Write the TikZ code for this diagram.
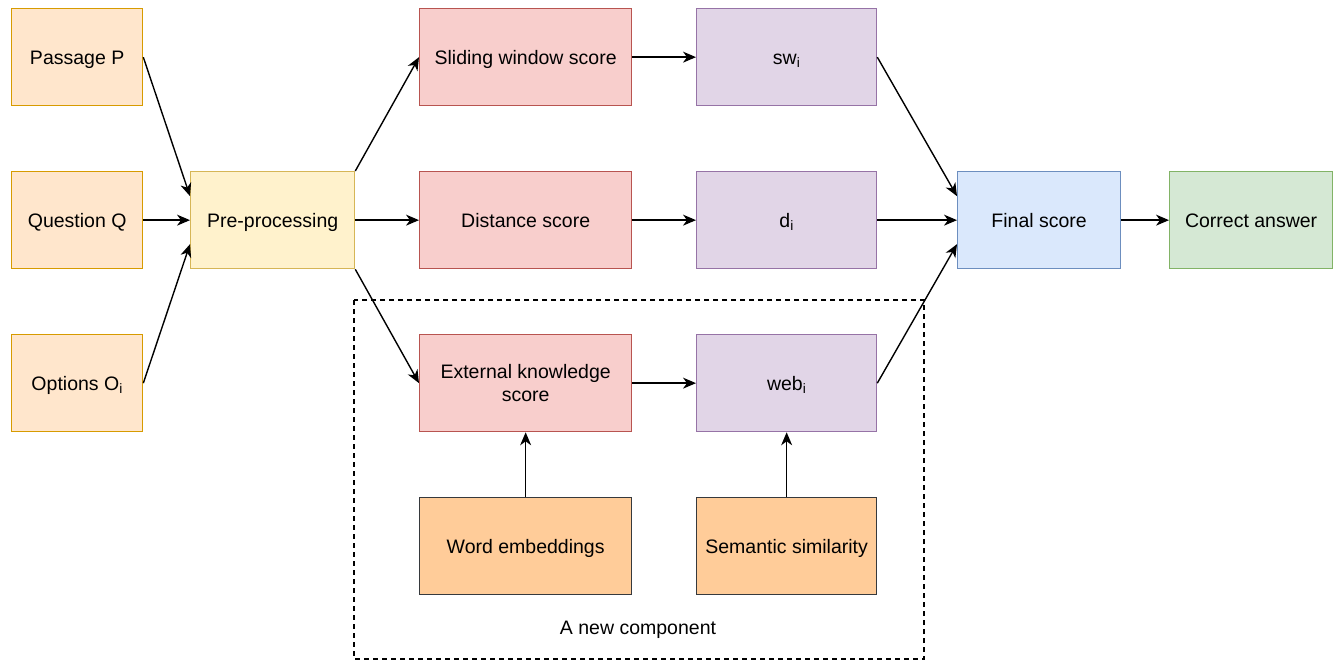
\documentclass[tikz,border=0pt]{standalone}
\usepackage{fontspec}
\setmainfont{Liberation Sans}
\usetikzlibrary{arrows.meta,calc}

\definecolor{inFill}{HTML}{FFE6CC}\definecolor{inLine}{HTML}{D79B00}
\definecolor{preFill}{HTML}{FFF2CC}\definecolor{preLine}{HTML}{D6B656}
\definecolor{scFill}{HTML}{F8CECC}\definecolor{scLine}{HTML}{B85450}
\definecolor{valFill}{HTML}{E1D5E7}\definecolor{valLine}{HTML}{9673A6}
\definecolor{resFill}{HTML}{FFCC99}\definecolor{resLine}{HTML}{36393D}
\definecolor{finFill}{HTML}{DAE8FC}\definecolor{finLine}{HTML}{6C8EBF}
\definecolor{ansFill}{HTML}{D5E8D4}\definecolor{ansLine}{HTML}{82B366}

\tikzset{
  box/.style={draw, line width=1.3pt, anchor=north west, inner sep=2pt,
    align=center, font=\fontsize{19.5}{23}\selectfont,
    text height=16pt, text depth=2pt},
  inbox/.style={box, fill=inFill, draw=inLine, minimum width=131pt, minimum height=97pt},
  prebox/.style={box, fill=preFill, draw=preLine, minimum width=164pt, minimum height=97pt},
  scbox/.style={box, fill=scFill, draw=scLine, minimum width=212pt, minimum height=97pt},
  valbox/.style={box, fill=valFill, draw=valLine, minimum width=180pt, minimum height=97pt},
  resbox/.style={box, fill=resFill, draw=resLine, minimum height=97pt},
  finbox/.style={box, fill=finFill, draw=finLine, minimum width=163pt, minimum height=97pt},
  ansbox/.style={box, fill=ansFill, draw=ansLine, minimum width=163pt, minimum height=97pt},
  link/.style={line width=1.4pt, -{Stealth[length=13pt,width=11pt,inset=4pt]}},
}

\begin{document}
\begin{tikzpicture}[x=1pt,y=-1pt]
\useasboundingbox (0,0) rectangle (1338,662);

% dashed frame around the new component
\draw[line width=1.3pt, dash pattern=on 5pt off 4pt] (354,300) rectangle (924,659);
\node[font=\fontsize{19.5}{23}\selectfont] (newlabel) at (638,630) {A new component};

% inputs
\node[inbox] (pass) at (11,8)   {Passage P};
\node[inbox] (ques) at (11,171) {Question Q};
\node[inbox] (opts) at (11,334) {Options O\textsubscript{i}};

% pre-processing
\node[prebox] (pre) at (190,171) {Pre-processing};

% scores
\node[scbox] (slide) at (419,8)   {Sliding window score};
\node[scbox] (dist)  at (419,171) {Distance score};
\node[scbox, text height=, text depth=] (ext) at (419,334) {External knowledge\\score};

% score values
\node[valbox] (sw)  at (696,8)   {sw\textsubscript{i}};
\node[valbox] (di)  at (696,171) {d\textsubscript{i}};
\node[valbox] (web) at (696,334) {web\textsubscript{i}};

% resources
\node[resbox, minimum width=212pt] (emb) at (419,497) {Word embeddings};
\node[resbox, minimum width=180pt] (sem) at (696,497) {Semantic similarity};

% output
\node[finbox] (fin) at (957,171)  {Final score};
\node[ansbox] (ans) at (1169,171) {Correct answer};

% connectors
\draw[link] (pass.east) -- ([yshift=24pt]pre.west);
\draw[link] (ques.east) -- (pre.west);
\draw[link] (opts.east) -- ([yshift=-24pt]pre.west);

\draw[link] (pre.north east) -- (slide.west);
\draw[link] (pre.east) -- (dist.west);
\draw[link] (pre.south east) -- (ext.west);

\draw[link] (slide.east) -- (sw.west);
\draw[link] (dist.east) -- (di.west);
\draw[link] (ext.east) -- (web.west);

\draw[link] (emb.north) -- (ext.south);
\draw[link] (sem.north) -- (web.south);

\draw[link] (sw.east) -- ([yshift=24pt]fin.west);
\draw[link] (di.east) -- (fin.west);
\draw[link] (web.east) -- ([yshift=-24pt]fin.west);

\draw[link] (fin.east) -- (ans.west);
\end{tikzpicture}
\end{document}
